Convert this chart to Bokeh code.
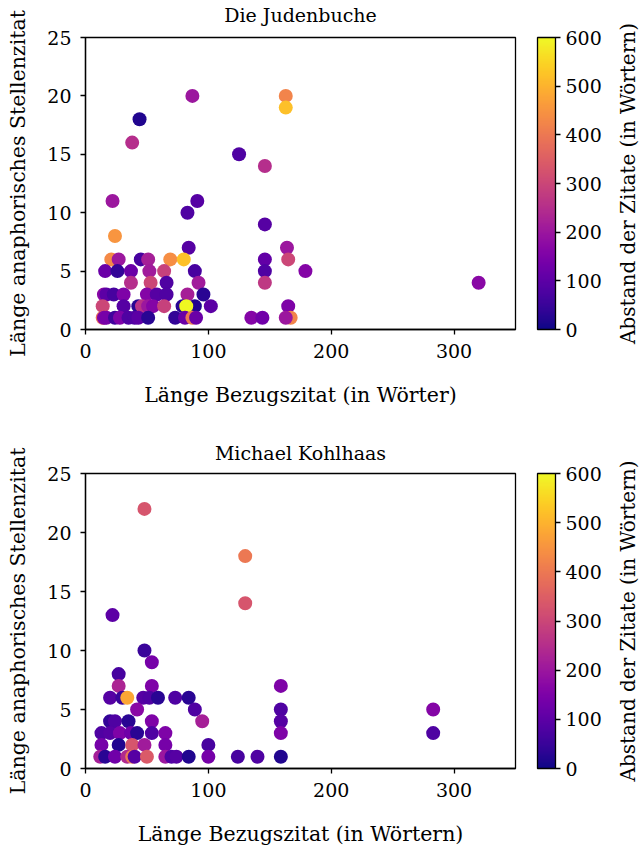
from bokeh.plotting import figure
from bokeh.models import (ColumnDataSource, LinearColorMapper, ColorBar, FixedTicker, LinearAxis)
from bokeh.palettes import Plasma256
from bokeh.layouts import column, row
from bokeh.embed import file_html
from bokeh.resources import INLINE

FONT = "DejaVu Serif"

# Die Judenbuche: length of reference quote, length of anaphoric quote, distance
jb_x = [87, 163, 163, 44, 38, 125, 146, 22, 91, 83, 146, 24, 84, 164,
        21, 27, 45, 51, 69, 80, 146, 165,
        16, 26, 37, 52, 64, 89, 146, 179,
        37, 53, 66, 92, 146,
        15, 17, 23, 31, 50, 58, 66, 83, 96,
        14, 31, 43, 46, 51, 55, 64, 79, 89, 102, 165, 82,
        14, 15, 17, 24, 28, 35, 40, 43, 51, 73, 81, 87, 90, 135, 144, 167, 163,
        320]
jb_y = [20, 20, 19, 18, 16, 15, 14, 11, 11, 10, 9, 8, 7, 7,
        6, 6, 6, 6, 6, 6, 6, 6,
        5, 5, 5, 5, 5, 5, 5, 5,
        4, 4, 4, 4, 4,
        3, 3, 3, 3, 3, 3, 3, 3, 3,
        2, 2, 2, 2, 2, 2, 2, 2, 2, 2, 2, 2,
        1, 1, 1, 1, 1, 1, 1, 1, 1, 1, 1, 1, 1, 1, 1, 1, 1,
        4]
jb_c = [200, 420, 520, 20, 250, 80, 250, 200, 90, 80, 90, 450, 90, 200,
        430, 200, 70, 220, 440, 520, 110, 300,
        120, 40, 120, 210, 290, 70, 80, 160,
        250, 300, 80, 210, 270,
        170, 100, 70, 150, 160, 90, 80, 220, 30,
        300, 90, 30, 260, 200, 160, 290, 30, 20, 100, 150, 600,
        380, 150, 140, 60, 150, 80, 80, 100, 30, 40, 120, 400, 120, 160, 130, 420, 200,
        170]

# Michael Kohlhaas
mk_x = [48, 130, 130, 22, 48, 54, 27, 27, 54, 159,
        20, 30, 34, 47, 52, 59, 73, 84,
        42, 89, 159, 283,
        20, 24, 35, 54, 95, 159,
        13, 20, 28, 37, 42, 54, 65, 159, 283,
        13, 27, 38, 48, 65, 100,
        12, 16, 24, 34, 38, 40, 50, 65, 70, 74, 84, 100, 124, 140, 159]
mk_y = [22, 18, 14, 13, 10, 9, 8, 7, 7, 7,
        6, 6, 6, 6, 6, 6, 6, 6,
        5, 5, 5, 5,
        4, 4, 4, 4, 4, 4,
        3, 3, 3, 3, 3, 3, 3, 3, 3,
        2, 2, 2, 2, 2, 2,
        1, 1, 1, 1, 1, 1, 1, 1, 1, 1, 1, 1, 1, 1, 1]
mk_c = [330, 400, 330, 100, 50, 140, 70, 230, 150, 150,
        90, 50, 480, 90, 80, 30, 80, 30,
        170, 80, 80, 160,
        40, 80, 30, 150, 220, 90,
        80, 90, 150, 130, 30, 80, 150, 150, 80,
        140, 20, 330, 210, 140, 70,
        220, 30, 130, 240, 400, 90, 340, 200, 80, 90, 20, 140, 70, 80, 20]

x_ticks = [0, 100, 200, 300]
y_ticks = [0, 5, 10, 15, 20, 25]
cbar_ticks = [0, 100, 200, 300, 400, 500, 600]

titles = ["Die Judenbuche", "Michael Kohlhaas"]
x_labels = ["Länge Bezugszitat (in Wörter)", "Länge Bezugszitat (in Wörtern)"]
y_label = "Länge anaphorisches Stellenzitat"
cbar_label = "Abstand der Zitate (in Wörtern)"

MAIN_W = 612


def label_only_axis(axis, text, size, standoff):
    axis.ticker = FixedTicker(ticks=[])
    axis.axis_line_color = None
    axis.major_tick_line_color = None
    axis.minor_tick_line_color = None
    axis.major_tick_in = 0
    axis.major_tick_out = 0
    axis.minor_tick_in = 0
    axis.minor_tick_out = 0
    axis.major_label_text_font_size = "0px"
    axis.axis_label = text
    axis.axis_label_standoff = standoff
    axis.axis_label_text_font = FONT
    axis.axis_label_text_font_size = size
    axis.axis_label_text_font_style = "normal"
    axis.axis_label_text_color = "black"


def side_fig(frame_h, border_top, border_bottom):
    # narrow companion figure whose left-axis label is the colour bar's title
    f = figure(frame_width=1, frame_height=frame_h, x_range=(0, 1), y_range=(0, 1),
               title=None, x_axis_location=None, y_axis_location="left",
               min_border_left=30, min_border_right=0,
               min_border_top=border_top, min_border_bottom=border_bottom,
               output_backend="svg", toolbar_location=None)
    f.grid.visible = False
    f.outline_line_color = None
    f.background_fill_color = "white"
    f.border_fill_color = "white"
    label_only_axis(f.yaxis[0], cbar_label, "20px", 5)
    return f


def make(title, xs, ys, cs, xlabel, frame_h, border_top, border_bottom, title_standoff):
    p = figure(frame_width=430, frame_height=frame_h, x_range=(0, 350), y_range=(0, 25),
               title=None, output_backend="svg", toolbar_location=None,
               min_border_left=85, min_border_right=MAIN_W - 85 - 430,
               min_border_top=border_top, min_border_bottom=border_bottom)
    p.grid.visible = False
    p.outline_line_color = "black"
    p.outline_line_width = 1.3
    p.outline_line_alpha = 1
    p.background_fill_color = "white"
    p.border_fill_color = "white"

    mapper = LinearColorMapper(palette=Plasma256, low=0, high=600)
    src = ColumnDataSource(dict(x=xs, y=ys, c=cs))
    p.scatter(x="x", y="y", source=src, size=14,
              fill_color={"field": "c", "transform": mapper}, line_color=None)

    for ax in (p.xaxis[0], p.yaxis[0]):
        ax.axis_line_color = "black"
        ax.axis_line_width = 1.3
        ax.major_tick_line_color = "black"
        ax.major_tick_line_width = 1.3
        ax.major_tick_in = 0
        ax.major_tick_out = 5
        ax.minor_tick_line_color = None
        ax.major_label_text_font = FONT
        ax.major_label_text_font_size = "19px"
        ax.major_label_text_color = "black"
        ax.axis_label_text_font = FONT
        ax.axis_label_text_font_size = "20.5px"
        ax.axis_label_text_font_style = "normal"
        ax.axis_label_text_color = "black"
    p.xaxis[0].ticker = FixedTicker(ticks=x_ticks)
    p.yaxis[0].ticker = FixedTicker(ticks=y_ticks)
    p.xaxis[0].axis_label = xlabel
    p.yaxis[0].axis_label = y_label
    p.xaxis[0].major_label_standoff = 9
    p.xaxis[0].axis_label_standoff = 22
    p.yaxis[0].major_label_standoff = 9
    p.yaxis[0].axis_label_standoff = 14

    # plot title, centred over the frame
    tax = LinearAxis()
    label_only_axis(tax, title, "19px", title_standoff)
    p.add_layout(tax, "above")

    cb = ColorBar(color_mapper=mapper, ticker=FixedTicker(ticks=cbar_ticks),
                  width=18, height=frame_h, padding=0, margin=0,
                  bar_line_color="black", bar_line_width=1.3,
                  major_tick_line_color="black", major_tick_line_width=1.3,
                  major_tick_in=0, major_tick_out=5,
                  minor_tick_line_color=None,
                  label_standoff=5,
                  major_label_text_font=FONT, major_label_text_font_size="19px",
                  major_label_text_color="black",
                  background_fill_color=None, border_line_color=None,
                  location=(22, 0))
    p.add_layout(cb, "right")
    return p


p1 = make(titles[0], jb_x, jb_y, jb_c, x_labels[0], 292, 37, 96, 12)
s1 = side_fig(292, 37, 96)
p2 = make(titles[1], mk_x, mk_y, mk_c, x_labels[1], 295, 48, 82, 10)
s2 = side_fig(295, 48, 82)

layout = column(row(p1, s1, spacing=0), row(p2, s2, spacing=0), spacing=0)
open("out.html", "w").write(file_html(layout, INLINE))
